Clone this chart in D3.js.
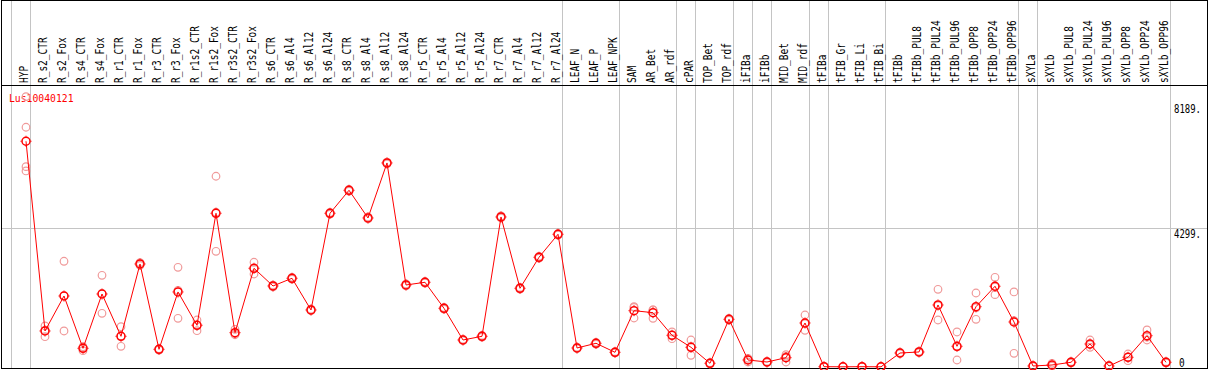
<!DOCTYPE html>
<html>
<head>
<meta charset="utf-8">
<style>
  body { margin: 0; background: #fff; }
  svg { display: block; background: #fff; }
  .lab { font-family: "DejaVu Sans Mono", monospace; font-size: 12px; fill: #000; }
</style>
</head>
<body>
<div id="chart"></div>
<script src="https://d3js.org/d3.v7.min.js"></script>
<script>
var width = 1209, height = 370;

var geneName = "Lus10040121";

var samples = ["HYP", "R_s2_CTR", "R_s2_Fox", "R_s4_CTR", "R_s4_Fox", "R_r1_CTR", "R_r1_Fox",
  "R_r3_CTR", "R_r3_Fox", "R_r1s2_CTR", "R_r1s2_Fox", "R_r3s2_CTR", "R_r3s2_Fox",
  "R_s6_CTR", "R_s6_Al4", "R_s6_Al12", "R_s6_Al24", "R_s8_CTR", "R_s8_Al4", "R_s8_Al12", "R_s8_Al24",
  "R_r5_CTR", "R_r5_Al4", "R_r5_Al12", "R_r5_Al24", "R_r7_CTR", "R_r7_Al4", "R_r7_Al12", "R_r7_Al24",
  "LEAF_N", "LEAF_P", "LEAF_NPK", "SAM", "AR_Bet", "AR_rdf", "cPAR", "TOP_Bet", "TOP_rdf",
  "iFIBa", "iFIBb", "MID_Bet", "MID_rdf", "tFIBa", "tFIB_Gr", "tFIB_Li", "tFIB_Bi",
  "tFIBb", "tFIBb_PUL8", "tFIBb_PUL24", "tFIBb_PUL96", "tFIBb_OPP8", "tFIBb_OPP24", "tFIBb_OPP96",
  "sXYLa", "sXYLb", "sXYLb_PUL8", "sXYLb_PUL24", "sXYLb_PUL96", "sXYLb_OPP8", "sXYLb_OPP24", "sXYLb_OPP96"];

// mean expression per sample
var means = [7002, 1112, 2198, 574, 2260, 947, 3192,
  543, 2323, 1289, 4766, 1059, 3058,
  2509, 2748, 1764, 4766, 5480, 4620, 6328, 2540,
  2624, 1816, 832, 947, 4651, 2437, 3400, 4114,
  584, 730, 450, 1742, 1680, 978, 605, 109, 1475,
  211, 149, 283, 1360, 3, 0, 3, 0,
  428, 460, 1919, 637, 1866, 2500, 1391,
  25, 56, 140, 708, 25, 295, 966, 140];

// replicate values per sample
var replicates = [
  [8387, 7436, 6213, 6080], [1267, 935, 1134], [3276, 1112, 2206], [624, 500, 598], [2841, 1661, 2278],
  [1245, 637, 959], [3192, 3150, 3234],
  [560, 520, 549], [3089, 1506, 2374], [1453, 1121, 1293], [5915, 3586, 4797], [1164, 1018, 995], [3245, 2881, 3048],
  [2509, 2480, 2538], [2748, 2720, 2776], [1764, 1740, 1788], [4766, 4740, 4792], [5480, 5450, 5510],
  [4620, 4590, 4650], [6328, 6300, 6356], [2540, 2510, 2570],
  [2624, 2600, 2648], [1816, 1790, 1842], [832, 810, 854], [947, 920, 974], [4651, 4620, 4682],
  [2437, 2410, 2464], [3400, 3370, 3430], [4114, 4090, 4138],
  [584, 560, 608], [730, 700, 760], [450, 430, 470], [1866, 1515, 1845], [1764, 1506, 1770], [1081, 873, 980],
  [832, 357, 626], [109, 90, 128], [1475, 1450, 1500],
  [264, 149, 220], [149, 130, 168], [376, 149, 324], [1608, 1133, 1339], [3, 0, 6], [0, 0, 0], [3, 0, 6], [0, 0, 0],
  [428, 410, 446], [460, 440, 480], [2406, 1453, 1898], [1081, 211, 619], [2291, 1475, 1832], [2779, 2239, 2482], [2323, 419, 1431],
  [25, 10, 40], [109, 30, 29], [140, 120, 160], [832, 605, 687], [25, 10, 40], [397, 189, 299], [1143, 832, 923], [140, 120, 160]];

// vertical separators are drawn right after these samples
var dividersAfter = ["HYP", "R_r7_Al24", "LEAF_NPK", "AR_rdf", "cPAR", "TOP_rdf", "iFIBa", "iFIBb",
  "MID_rdf", "tFIBa", "tFIB_Bi", "tFIBb_OPP96", "sXYLa", "sXYLb_OPP96"];

var yTicks = [8189, 4299, 0];

var svg = d3.select("#chart").append("svg")
  .attr("width", width)
  .attr("height", height);

var x = d3.scalePoint()
  .domain(samples)
  .range([26, 1166]);
var step = x.step();

var y = d3.scaleLinear()
  .domain([0, 8189])
  .range([366.8, 103]);

// gray grid
var grid = svg.append("g").attr("shape-rendering", "crispEdges");
grid.append("line")
  .attr("x1", 1).attr("x2", 1207)
  .attr("y1", Math.round(y(4299)) + 0.5).attr("y2", Math.round(y(4299)) + 0.5)
  .attr("stroke", "#c4c4c4");

var divX = [x(samples[0]) - step + 4.75].concat(dividersAfter.map(function(d) { return x(d) + 4.75; }));
grid.selectAll(".div")
  .data(divX)
  .enter().append("line")
  .attr("x1", function(d) { return Math.floor(d) + 0.5; })
  .attr("x2", function(d) { return Math.floor(d) + 0.5; })
  .attr("y1", 0).attr("y2", 369)
  .attr("stroke", "#c4c4c4");

// frame
svg.append("rect")
  .attr("x", 1.5).attr("y", 0.5)
  .attr("width", 1206).attr("height", 368)
  .attr("fill", "none").attr("stroke", "#000")
  .attr("shape-rendering", "crispEdges");
svg.append("line")
  .attr("x1", 1).attr("x2", 1208).attr("y1", 85.5).attr("y2", 85.5)
  .attr("stroke", "#000").attr("shape-rendering", "crispEdges");

// sample labels, vertical
svg.selectAll(".slab")
  .data(samples)
  .enter().append("text")
  .attr("class", "lab")
  .attr("transform", function(d) { return "translate(" + (x(d) + 1.5) + ",83) rotate(-90)"; })
  .attr("textLength", function(d) { return d.length * 5.7; })
  .attr("lengthAdjust", "spacingAndGlyphs")
  .text(function(d) { return d; });

// y labels
svg.selectAll(".ylab")
  .data(yTicks)
  .enter().append("text")
  .attr("class", "lab")
  .attr("x", function(d) { return d === 0 ? 1179 : 1174; })
  .attr("y", function(d) { return d === 0 ? 366.5 : y(d) + 9.5; })
  .attr("textLength", function(d) { return d === 0 ? 5.7 : 27; })
  .attr("lengthAdjust", "spacingAndGlyphs")
  .text(function(d) { return d === 0 ? "0" : d + "."; });

// title
svg.append("text")
  .attr("class", "lab")
  .attr("x", 9).attr("y", 101.5)
  .style("fill", "#ff0000")
  .style("font-size", "11px")
  .attr("textLength", 64.5)
  .attr("lengthAdjust", "spacingAndGlyphs")
  .text(geneName);

// replicate points
var repPts = [];
replicates.forEach(function(r, i) {
  r.forEach(function(v) { repPts.push({ s: samples[i], v: v }); });
});
svg.selectAll(".rep")
  .data(repPts)
  .enter().append("circle")
  .attr("cx", function(d) { return x(d.s); })
  .attr("cy", function(d) { return y(d.v); })
  .attr("r", 3.8)
  .attr("fill", "none")
  .attr("stroke", "#f09a9a")
  .attr("stroke-width", 1.2);

// mean line
var line = d3.line()
  .x(function(d, i) { return x(samples[i]); })
  .y(function(d) { return y(d); });
svg.append("path")
  .datum(means)
  .attr("d", line)
  .attr("fill", "none")
  .attr("stroke", "#ff0000")
  .attr("stroke-width", 1);

// mean markers
var mk = svg.selectAll(".mean")
  .data(means)
  .enter().append("g")
  .attr("transform", function(d, i) { return "translate(" + x(samples[i]) + "," + y(d) + ")"; });
mk.append("circle")
  .attr("r", 4)
  .attr("fill", "none")
  .attr("stroke", "#ff0000")
  .attr("stroke-width", 1.5);
mk.append("path")
  .attr("d", "M0,-5.5V-4.5M0,4.5V5.5M-5.5,0H-4.5M4.5,0H5.5")
  .attr("stroke", "#ff0000")
  .attr("stroke-width", 1);
</script>
</body>
</html>
